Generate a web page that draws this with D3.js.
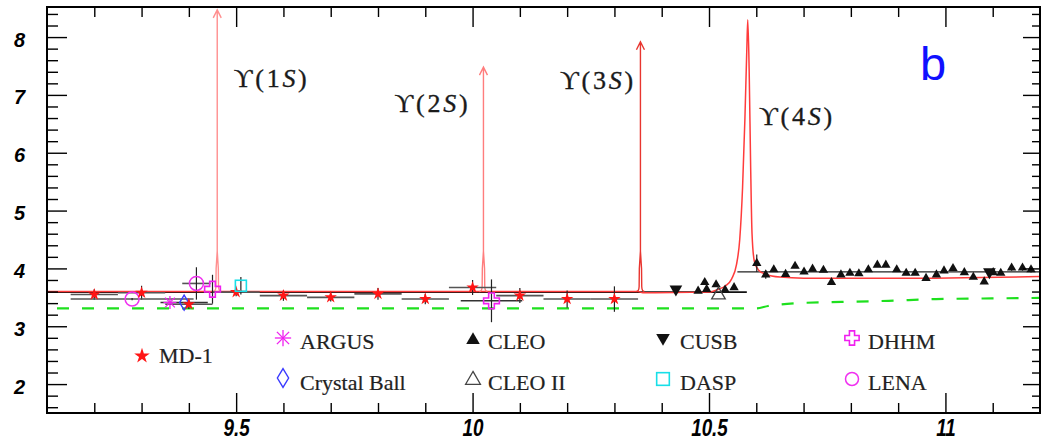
<!DOCTYPE html>
<html><head><meta charset="utf-8">
<script src="https://cdn.jsdelivr.net/npm/d3@7"></script>
<style>
html,body{margin:0;padding:0;background:#fff;}
svg{display:block;}
</style></head>
<body>
<svg id="chart" width="1041" height="443"></svg>
<script>
// ---------------- DATA ----------------
const xTickMajor = [9.5, 10, 10.5, 11];
const yTickMajor = [2, 3, 4, 5, 6, 7, 8];

// MD-1 (red stars)
const md1E   = [9.2, 9.3, 9.4, 9.5, 9.6, 9.7, 9.8, 9.9, 10.0, 10.1, 10.2, 10.3];
const md1R   = [3.55, 3.58, 3.38, 3.59, 3.53, 3.50, 3.56, 3.47, 3.67, 3.53, 3.47, 3.47];
const md1Err = [0.09, 0.12, 0.08, 0.07, 0.09, 0.07, 0.10, 0.09, 0.13, 0.13, 0.15, 0.22];
const md1XErr = 0.05;

// ARGUS
const argusE = [9.36], argusR = [3.41];
// Crystal Ball
const cbE = [9.39], cbR = [3.41], cbXErr = [0.05];
// LENA
const lenaE = [9.28, 9.416], lenaR = [3.47, 3.74], lenaXErr = [0.13, 0.03], lenaErr = [0.02, 0.28];
// DHHM
const dhhmE = [9.45, 10.04], dhhmR = [3.64, 3.44], dhhmXErr = [0.0, 0.065], dhhmErr = [0.25, 0.37];
// DASP
const daspE = [9.51], daspR = [3.70], daspErr = [0.15];
// CUSB
const cusbE = [10.43, 11.093], cusbR = [3.64, 3.94];
// CLEO II
const cleo2E = [10.52], cleo2R = [3.54];
// CLEO
const cleoE = [10.477, 10.491, 10.495, 10.515, 10.534, 10.553,
  10.601, 10.620, 10.637, 10.662, 10.682, 10.701, 10.719, 10.742, 10.759, 10.779,
  10.798, 10.817, 10.837, 10.856, 10.874, 10.897, 10.917, 10.936, 10.959, 10.981,
  10.997, 11.016, 11.040, 11.059, 11.082, 11.101, 11.117, 11.140, 11.163, 11.181];
const cleoR = [3.61, 3.76, 3.64, 3.72, 3.63, 3.67,
  4.09, 3.89, 3.98, 3.90, 4.04, 3.94, 3.99, 3.97, 3.76, 3.89,
  3.92, 3.91, 3.98, 4.06, 4.06, 3.98, 3.92, 3.92, 3.83, 3.89,
  3.96, 4.00, 3.93, 3.85, 3.77, 3.93, 3.92, 4.01, 4.01, 3.98];
const cleoErr = [0, 0, 0, 0, 0, 0,
  0.15, 0.07, 0, 0, 0, 0, 0, 0, 0, 0,
  0, 0, 0, 0, 0, 0, 0, 0, 0, 0,
  0, 0, 0, 0, 0, 0, 0, 0.05, 0.05, 0.05];

// theory curve (red) incl. Upsilon(4S)
const curveE = [9.1, 10.35, 10.36, 10.50, 10.52, 10.535, 10.548, 10.558, 10.565, 10.571, 10.576, 10.580, 10.582, 10.585, 10.588, 10.591, 10.596, 10.605, 10.62, 10.65, 10.70, 10.90, 11.20];
const curveR = [3.60, 3.60, 3.58, 3.59, 3.64, 3.70, 3.82, 4.06, 4.50, 5.4, 6.6, 7.8, 8.30, 7.4, 5.8, 4.6, 4.12, 3.97, 3.90, 3.85, 3.83, 3.83, 3.86];

// narrow resonances (arrows)
const resName = ["1S", "2S", "3S", "4S"];
const resMass = [9.460, 10.023, 10.355];
const resTop  = [8.47, 7.48, 7.92];
const resColor = ["#ff8f8f", "#ff7d7d", "#e8352f"];

// label positions (value space) for Upsilon labels
const labE = [9.495, 9.835, 10.185, 10.606];
const labR = [7.14, 6.70, 7.10, 6.48];

// black step (QCD) line
const stepE0 = [9.1, 10.58], stepE1 = [10.56, 11.2], stepR = [3.59, 3.94];

// green dashed line
const greenE = [9.1, 10.60, 10.625, 10.69, 10.78, 10.88, 10.98, 11.08, 11.2];
const greenR = [3.31, 3.31, 3.35, 3.40, 3.42, 3.44, 3.47, 3.48, 3.49];

// legend
const legNames = ["MD-1", "ARGUS", "Crystal Ball", "CLEO", "CLEO II", "CUSB", "DASP", "DHHM", "LENA"];

// ---------------- DRAW ----------------
const svg = d3.select("#chart");
const L = 47, R = 1040, T = 7, B = 413;
const x = d3.scaleLinear().domain([9.1, 11.2]).range([L, R]);
const y = d3.scaleLinear().domain([1.5, 8.52]).range([B, T]);

const g = svg.append("g");

// green dashed
g.append("path")
  .datum(greenE.map((e, i) => [e, greenR[i]]))
  .attr("d", d3.line().x(d => x(d[0])).y(d => y(d[1])).curve(d3.curveMonotoneX))
  .attr("fill", "none").attr("stroke", "#1ee01e").attr("stroke-width", 2.2)
  .attr("stroke-dasharray", "12 13").attr("stroke-dashoffset", 15);

// black step lines
g.append("line").attr("x1", x(stepE0[0])).attr("x2", x(stepE0[1]))
  .attr("y1", y(stepR[0])).attr("y2", y(stepR[0]))
  .attr("stroke", "#111").attr("stroke-width", 1.6);
g.append("line").attr("x1", x(stepE1[0]) + 0).attr("x2", x(stepE1[1]))
  .attr("y1", y(stepR[1])).attr("y2", y(stepR[1]))
  .attr("stroke", "#222").attr("stroke-width", 1.4);

// red theory curve
g.append("path")
  .datum(curveE.map((e, i) => [e, curveR[i]]))
  .attr("d", d3.line().x(d => x(d[0])).y(d => y(d[1])).curve(d3.curveMonotoneX))
  .attr("fill", "none").attr("stroke", "#ff3b3b").attr("stroke-width", 1.5);

// narrow resonance spikes with arrows
resMass.forEach((m, i) => {
  const xm = x(m), yb = y(3.6), yt = y(resTop[i]);
  const p = d3.path();
  p.moveTo(xm - 4, yb);
  p.quadraticCurveTo(xm - 1.5, yb, xm - 1.3, yb - 5);
  p.lineTo(xm - 1.1, y(4.0));
  p.lineTo(xm, y(4.3));
  p.lineTo(xm, yt);
  p.moveTo(xm + 4, yb);
  p.quadraticCurveTo(xm + 1.5, yb, xm + 1.3, yb - 5);
  p.lineTo(xm + 1.1, y(4.0));
  p.lineTo(xm, y(4.3));
  // arrow head
  p.moveTo(xm - 4, yt + 8);
  p.lineTo(xm, yt);
  p.lineTo(xm + 4, yt + 8);
  g.append("path").attr("d", p.toString()).attr("fill", "none")
    .attr("stroke", resColor[i]).attr("stroke-width", 1.4);
});

// error bar helper
function errbars(E, Rv, xe, ye, color) {
  E.forEach((e, i) => {
    const xeV = Array.isArray(xe) ? xe[i] : xe;
    const yeV = Array.isArray(ye) ? ye[i] : ye;
    if (xeV > 0) g.append("line").attr("x1", x(e - xeV)).attr("x2", x(e + xeV))
      .attr("y1", y(Rv[i])).attr("y2", y(Rv[i])).attr("stroke", color).attr("stroke-width", 1.6);
    if (yeV > 0) g.append("line").attr("x1", x(e)).attr("x2", x(e))
      .attr("y1", y(Rv[i] - yeV)).attr("y2", y(Rv[i] + yeV)).attr("stroke", "#222").attr("stroke-width", 1.2);
  });
}
errbars(md1E, md1R, md1XErr, md1Err, "#555");
errbars(cbE, cbR, cbXErr, 0, "#333");
errbars(lenaE, lenaR, lenaXErr, lenaErr, "#555");
errbars(dhhmE, dhhmR, dhhmXErr, dhhmErr, "#333");
errbars(daspE, daspR, 0, daspErr, "#333");
errbars(cleoE, cleoR, 0, cleoErr, "#222");

// marker drawing
const star = (s) => d3.symbol().type(d3.symbolStar).size(s)();
const tri = (s) => d3.symbol().type(d3.symbolTriangle).size(s)();
function marker(kind, cx, cy, big) {
  const k = big ? 1.25 : 1;
  const mg = g.append("g").attr("transform", `translate(${cx},${cy})`);
  if (kind === "MD-1") mg.append("path").attr("d", star(48 * k * k)).attr("fill", "#ff1515");
  else if (kind === "ARGUS") {
    const r = 6.5 * k;
    [[0, -r, 0, r], [-r, 0, r, 0], [-r * .75, -r * .75, r * .75, r * .75], [-r * .75, r * .75, r * .75, -r * .75]]
      .forEach(a => mg.append("line").attr("x1", a[0]).attr("y1", a[1]).attr("x2", a[2]).attr("y2", a[3])
        .attr("stroke", "#f020f0").attr("stroke-width", 1.3));
  } else if (kind === "Crystal Ball") {
    const w = 4.5 * k, h = 7.5 * k;
    mg.append("path").attr("d", `M0,${-h}L${w},0L0,${h}L${-w},0Z`).attr("fill", "none")
      .attr("stroke", "#3a3aff").attr("stroke-width", 1.4);
  } else if (kind === "CLEO") mg.append("path").attr("d", tri(big ? 80 : 38)).attr("fill", "#111");
  else if (kind === "CLEO II") mg.append("path").attr("d", tri(big ? 95 : 80)).attr("fill", "none")
      .attr("stroke", "#444").attr("stroke-width", 1.3);
  else if (kind === "CUSB") mg.append("path").attr("d", tri(big ? 80 : 70)).attr("fill", "#111")
      .attr("transform", "rotate(180)");
  else if (kind === "DASP") { const s = 5.5 * (big ? 1.15 : 1);
    mg.append("rect").attr("x", -s).attr("y", -s).attr("width", 2 * s).attr("height", 2 * s)
      .attr("fill", "none").attr("stroke", "#18dfe8").attr("stroke-width", 1.6); }
  else if (kind === "DHHM") {
    const a = 2.7 * (big ? 0.95 : 1.05), b = 7.5 * (big ? 0.95 : 1.05);
    mg.append("path").attr("d",
      `M${-a},${-b}H${a}V${-a}H${b}V${a}H${a}V${b}H${-a}V${a}H${-b}V${-a}H${-a}Z`)
      .attr("fill", "none").attr("stroke", "#f020f0").attr("stroke-width", 1.6);
  } else if (kind === "LENA") mg.append("circle").attr("r", big ? 6.5 : 7)
      .attr("fill", "none").attr("stroke", "#f030f0").attr("stroke-width", 1.5);
}

lenaE.forEach((e, i) => marker("LENA", x(e), y(lenaR[i])));
argusE.forEach((e, i) => marker("ARGUS", x(e), y(argusR[i])));
cbE.forEach((e, i) => marker("Crystal Ball", x(e), y(cbR[i])));
md1E.forEach((e, i) => marker("MD-1", x(e), y(md1R[i])));
dhhmE.forEach((e, i) => marker("DHHM", x(e), y(dhhmR[i])));
daspE.forEach((e, i) => marker("DASP", x(e), y(daspR[i])));
cleoE.forEach((e, i) => marker("CLEO", x(e), y(cleoR[i])));
cleo2E.forEach((e, i) => marker("CLEO II", x(e), y(cleo2R[i])));
cusbE.forEach((e, i) => marker("CUSB", x(e), y(cusbR[i])));

// Upsilon labels
resName.forEach((n, i) => {
  const t = g.append("text").attr("x", x(labE[i])).attr("y", y(labR[i]))
    .attr("font-family", "'Liberation Serif','DejaVu Serif',serif").attr("font-size", 26)
    .attr("fill", "#1a1a1a").attr("stroke", "#1a1a1a").attr("stroke-width", 0.35)
    .attr("textLength", 73).attr("lengthAdjust", "spacing");
  t.append("tspan").text("\u03D2(" + n[0]);
  t.append("tspan").attr("font-style", "italic").text(n[1]);
  t.append("tspan").text(")");
});

// panel label
g.append("text").attr("x", 920).attr("y", 80).attr("font-family", "'Liberation Sans',Arial,sans-serif")
  .attr("font-size", 47).attr("fill", "#1010ff").text("b");

// legend
const legPos = [
  [142, 356, 159, 363], [283, 338, 300, 349], [283, 378, 300, 390],
  [473, 340, 488, 349], [473, 380, 488, 390], [663, 338, 680, 349],
  [663, 379, 680, 390], [852, 338, 868, 349], [852, 379, 868, 390]];
legNames.forEach((n, i) => {
  const p = legPos[i];
  marker(n, p[0], p[1], true);
  g.append("text").attr("x", p[2]).attr("y", p[3])
    .attr("font-family", "'Liberation Serif','DejaVu Serif',serif").attr("font-size", 22)
    .attr("fill", "#222").attr("stroke", "#222").attr("stroke-width", 0.2).text(n);
});

// frame
svg.append("rect").attr("x", L).attr("y", T).attr("width", R - L).attr("height", B - T)
  .attr("fill", "none").attr("stroke", "#000").attr("stroke-width", 2);

// axes
const xMinor = d3.range(9.2, 11.2, 0.1).map(v => +v.toFixed(2)).filter(v => !xTickMajor.includes(v));
const yMinor = d3.range(1.6, 8.52, 0.2).map(v => +v.toFixed(2)).filter(v => !yTickMajor.includes(v));

function styleAxis(sel) { sel.select(".domain").remove(); sel.selectAll("line").attr("stroke", "#000").attr("stroke-width", 1.4); }

// bottom
svg.append("g").attr("transform", `translate(0,${B})`)
  .call(d3.axisBottom(x).tickValues(xMinor).tickSize(-10).tickFormat("")).call(styleAxis);
const xb = svg.append("g").attr("transform", `translate(0,${B})`)
  .call(d3.axisBottom(x).tickValues(xTickMajor).tickSize(-20).tickPadding(7).tickFormat(d3.format("")))
  .call(styleAxis);
xb.selectAll("text").attr("font-family", "'Liberation Sans',Arial,sans-serif").attr("font-weight", "bold")
  .attr("font-style", "italic").attr("font-size", 23).attr("fill", "#000")
  .attr("transform", "scale(0.82,1)");
// top
svg.append("g").attr("transform", `translate(0,${T})`)
  .call(d3.axisTop(x).tickValues(xMinor).tickSize(-10).tickFormat("")).call(styleAxis);
svg.append("g").attr("transform", `translate(0,${T})`)
  .call(d3.axisTop(x).tickValues(xTickMajor).tickSize(-20).tickFormat("")).call(styleAxis);
// left
svg.append("g").attr("transform", `translate(${L},0)`)
  .call(d3.axisLeft(y).tickValues(yMinor).tickSize(-11).tickFormat("")).call(styleAxis);
const yl = svg.append("g").attr("transform", `translate(${L},0)`)
  .call(d3.axisLeft(y).tickValues(yTickMajor).tickSize(-20).tickPadding(22).tickFormat(d3.format("d")))
  .call(styleAxis);
yl.selectAll("text").attr("font-family", "'Liberation Sans',Arial,sans-serif").attr("font-weight", "bold")
  .attr("font-style", "italic").attr("font-size", 20).attr("fill", "#000").attr("dy", "0.45em");
// right
svg.append("g").attr("transform", `translate(${R},0)`)
  .call(d3.axisRight(y).tickValues(yMinor).tickSize(-8).tickFormat("")).call(styleAxis);
svg.append("g").attr("transform", `translate(${R},0)`)
  .call(d3.axisRight(y).tickValues(yTickMajor).tickSize(-17).tickFormat("")).call(styleAxis);
</script>
</body></html>
